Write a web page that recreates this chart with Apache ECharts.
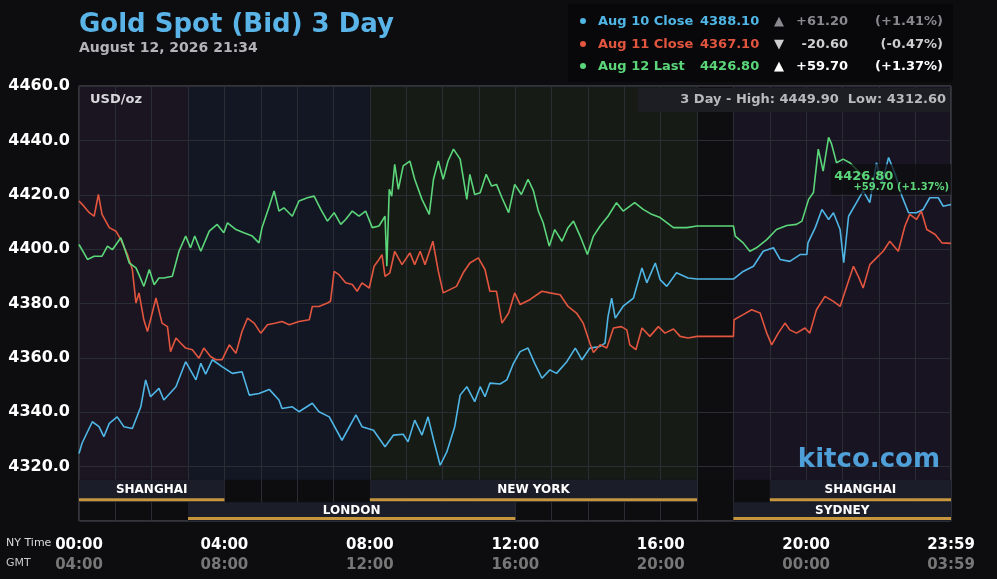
<!DOCTYPE html>
<html><head><meta charset="utf-8">
<script src="https://cdn.jsdelivr.net/npm/echarts@6/dist/echarts.min.js"></script>
<style>html,body{margin:0;padding:0;background:#0d0d10;}#c{width:997px;height:579px;}</style>
</head><body><div id="c"></div>
<script>
const F = '"DejaVu Sans", sans-serif';

// minutes after 00:00 NY time
const tAug10 = [0,5,22,33,41,50,63,74,88,102,110,118,132,140,160,176,193,201,209,220,236,253,269,281,297,314,330,335,352,363,385,396,413,434,457,467,486,505,519,535,543,554,566,576,585,596,607,620,629,640,653,662,670,678,695,706,717,728,741,752,764,777,788,805,819,830,843,860,868,873,879,885,898,915,929,937,951,959,970,986,1005,1020,1080,1096,1113,1129,1146,1157,1173,1190,1201,1203,1215,1226,1237,1245,1256,1262,1270,1283,1294,1305,1316,1325,1336,1347,1358,1369,1382,1393,1404,1418,1426,1439];
const vAug10 = [4324.8,4328.6,4336.5,4334.7,4331,4335.9,4338.3,4334.7,4334,4342,4351.9,4345.7,4348.8,4344.5,4349.4,4358.6,4351.9,4358,4354,4359.3,4356.8,4354.3,4354.9,4346.3,4346.9,4348.4,4344.5,4341.4,4342,4340.2,4343.3,4340.2,4338.3,4329.7,4339,4334.7,4333.4,4327.3,4331.6,4331.9,4329.1,4337.1,4331.6,4338.3,4330,4320.5,4325.4,4334.7,4346.3,4349.4,4343.9,4349.4,4345.7,4350.7,4350.4,4351.9,4358,4362.3,4363.6,4358,4352.5,4355.6,4354.3,4358.6,4363.6,4359.3,4363.6,4364.2,4365.4,4375.2,4382,4374.6,4379,4382,4393.1,4387.6,4394.9,4388.8,4386.3,4391.3,4389.4,4389,4389,4391.8,4393.7,4399.2,4400.5,4396.2,4395.5,4398,4398,4402.3,4407.9,4414.6,4410.9,4413.4,4407.2,4395,4412.1,4417.1,4421.4,4417.1,4431.8,4424,4433.7,4427.5,4419.5,4413.4,4413.4,4414.6,4418.9,4418.9,4415.8,4416.4];

const tAug11 = [0,8,17,25,32,38,50,61,69,80,88,94,99,107,113,118,127,137,146,151,160,168,176,187,198,206,217,226,236,248,259,269,278,289,300,311,325,335,347,363,380,385,396,410,415,421,429,440,451,459,467,479,487,495,500,505,513,521,533,546,554,563,571,584,593,601,612,623,634,645,659,670,678,689,698,709,719,728,744,764,777,794,807,821,832,843,849,860,871,882,895,904,909,919,929,942,956,967,981,992,1005,1020,1080,1081,1096,1110,1124,1135,1143,1154,1165,1173,1184,1198,1206,1217,1231,1245,1256,1267,1278,1286,1294,1305,1316,1327,1338,1352,1363,1371,1382,1390,1399,1413,1424,1439];
const vAug11 = [4417.7,4415.8,4413.4,4412.1,4420.1,4412.8,4407.9,4406.6,4403.5,4398,4392.5,4380.2,4383.9,4374,4369.7,4374,4382,4372.8,4371.5,4362.3,4367.3,4365.4,4363.6,4363,4359.9,4363.6,4360.5,4359.3,4359.3,4364.8,4361.7,4369.7,4374.6,4372.8,4369.1,4372.2,4372.8,4373.4,4372.2,4373.4,4374,4378.9,4378.9,4380.2,4380.8,4391.8,4390.6,4387.6,4387,4384.5,4387.6,4385.7,4393.7,4396.2,4398,4390,4391.3,4399.2,4394.3,4398.6,4394.3,4399.2,4394.3,4402.9,4391.8,4383.9,4385.1,4386.3,4391.3,4394.9,4396.8,4392.5,4384.5,4384.5,4372.8,4376.5,4383.9,4379.6,4381.4,4384.5,4383.9,4383.2,4378.9,4376.5,4372.8,4365.4,4362,4364.8,4363.6,4371,4371.5,4370.3,4364.8,4363,4371,4367.9,4371.5,4369.1,4370.6,4367.9,4367.3,4367.9,4367.9,4374,4375.9,4377.7,4376.5,4369.1,4364.8,4369.1,4372.8,4370.3,4369.1,4371,4369.1,4377.7,4382.6,4380.8,4378.9,4386.3,4393.7,4390,4385.7,4394.3,4396.8,4399.2,4402.9,4399.2,4408.5,4412.8,4410.9,4414,4407.2,4405.4,4402.3,4402.1];

const tAug12 = [0,8,14,25,38,47,55,69,74,83,94,99,107,116,124,132,140,154,165,176,184,191,201,215,228,239,245,259,272,286,297,302,314,322,330,338,352,363,377,388,399,410,421,432,440,451,462,473,484,495,505,508,512,516,521,527,535,546,554,566,578,585,593,601,609,618,629,640,645,653,662,672,681,689,698,709,719,730,741,750,758,766,776,785,797,807,816,827,839,849,860,873,887,898,917,931,945,959,981,1003,1020,1080,1083,1096,1107,1118,1135,1151,1168,1184,1193,1204,1212,1220,1228,1237,1242,1250,1261,1272,1294];
const vAug12 = [4401.7,4398.6,4396.2,4397.4,4397.4,4401.1,4399.8,4404.2,4401.1,4394.9,4393.1,4390.6,4386.3,4392.5,4386.9,4389.4,4389.4,4390,4399.2,4404.8,4400.5,4404.8,4399.2,4406.6,4409.1,4406,4409.7,4407.2,4406,4404.8,4402.3,4407.9,4415.8,4421.4,4414,4415.2,4412.1,4417.7,4418.9,4419.5,4414.6,4410.3,4413.4,4409.1,4410.9,4414,4412.1,4414,4407.9,4408.5,4412.1,4393.7,4422,4419.5,4431.2,4422,4430.6,4432.4,4425.7,4418.3,4412.8,4425.7,4432.4,4425.7,4432.4,4436.8,4433.1,4418.3,4427.5,4420.1,4420.7,4427.5,4423.2,4423.8,4418.9,4413.4,4423.8,4420.1,4425.7,4421.4,4414,4409.7,4401.1,4407.2,4402.9,4407.9,4410.3,4404.8,4398,4404.8,4408.5,4412.1,4417.1,4414,4417.1,4414.6,4412.8,4411.6,4407.9,4407.9,4408.5,4408.5,4404.8,4402.3,4399.2,4400.5,4403.5,4407.2,4408.7,4409.1,4410.3,4418.3,4420.8,4436.8,4428.7,4441.1,4438.6,4431.8,4433.1,4431.8,4426.8];

// legend table
const legNames = ['Aug 10 Close','Aug 11 Close','Aug 12 Last'];
const legValues = ['4388.10','4367.10','4426.80'];
const legArrows = ['▲','▼','▲'];
const legChanges = ['+61.20','-20.60','+59.70'];
const legPcts = ['(+1.41%)','(-0.47%)','(+1.37%)'];
const lastLabel = '4426.80';
const lastChange = '+59.70 (+1.37%)';

// trading sessions (minutes) and row
const sessNames = ['SHANGHAI','LONDON','NEW YORK','SHANGHAI','SYDNEY'];
const sessStart = [0,180,480,1140,1080];
const sessEnd = [240,720,1020,1439,1439];
const sessRow = [0,1,0,0,1];

// background bands
const bandStart = [0,180,480,1020,1080];
const bandEnd = [180,480,1020,1080,1439];
const bandColors = ['#1a1520','#131723','#171b16','#0e0e11','#181421'];

const xTicks = [0,240,480,720,960,1200,1439];
const yMin = 4300, yMax = 4460, yStep = 20;

const C_BLUE = '#4fb6e6', C_RED = '#e2553f', C_GREEN = '#5cd67a';

function hhmm(m){ m = ((m % 1440) + 1440) % 1440; const h = Math.floor(m/60), mm = m % 60; return String(h).padStart(2,'0') + ':' + String(mm).padStart(2,'0'); }
function pairs(t, v){ return t.map((x,i)=>[x, v[i]]); }

const chart = echarts.init(document.getElementById('c'), null, {renderer:'canvas'});

const ROW_TOP = [4315.2, 4306.9], ROW_BOT = [4306.9, 4300];

const option = {
  backgroundColor: '#0d0d10',
  animation: false,
  grid: { left: 79, right: 46, top: 86, bottom: 58, show: true, borderColor: '#5c5c62', borderWidth: 1, backgroundColor: 'transparent' },
  xAxis: {
    type: 'value', min: 0, max: 1439, interval: 60,
    axisLine: {show:false}, axisTick: {show:false},
    splitLine: { show: true, lineStyle: { color: '#2b2d35', width: 1 } },
    axisLabel: {
      customValues: xTicks, margin: 14,
      formatter: v => '{a|' + hhmm(v) + '}\n{b|' + hhmm(v + 240) + '}',
      rich: {
        a: { color: '#ffffff', fontFamily: F, fontWeight: 'bold', fontSize: 15, lineHeight: 20 },
        b: { color: '#777777', fontFamily: F, fontWeight: 'bold', fontSize: 15, lineHeight: 20 }
      }
    }
  },
  yAxis: {
    type: 'value', min: yMin, max: yMax, interval: yStep,
    axisLine: {show:false}, axisTick: {show:false},
    splitLine: { show: true, lineStyle: { color: '#2b2d35', width: 1 } },
    axisLabel: { margin: 9, color: '#ffffff', fontFamily: F, fontWeight: 'bold', fontSize: 16,
      formatter: v => v === yMin ? '' : v.toFixed(1) }
  },
  series: [
    {
      type: 'custom', z: -1, silent: true,
      data: bandStart.map((s,i)=>[s, bandEnd[i], i]),
      renderItem: (params, api) => {
        const p1 = api.coord([api.value(0), yMax]);
        const p2 = api.coord([api.value(1), ROW_TOP[0]]);
        return { type: 'rect', shape: { x: p1[0], y: p1[1], width: p2[0]-p1[0], height: p2[1]-p1[1] },
          style: { fill: bandColors[api.value(2)] } };
      }
    },
    {
      type: 'custom', z: 3, silent: true,
      data: sessStart.map((s,i)=>[s, sessEnd[i], sessRow[i], i]),
      renderItem: (params, api) => {
        const r = api.value(2);
        const p1 = api.coord([api.value(0), ROW_TOP[r]]);
        const p2 = api.coord([api.value(1), ROW_BOT[r]]);
        const w = p2[0]-p1[0], h = p2[1]-p1[1];
        return { type: 'group', children: [
          { type: 'rect', shape: { x: p1[0], y: p1[1], width: w, height: h }, style: { fill: '#1b1e28' } },
          { type: 'rect', shape: { x: p1[0], y: p2[1]-4, width: w, height: 3 }, style: { fill: '#c6963f' } },
          { type: 'text', x: p1[0] + w/2, y: p1[1] + h/2 - 1, style: { text: sessNames[api.value(3)], fill: '#ffffff',
            font: 'bold 12px ' + F, align: 'center', verticalAlign: 'middle' } }
        ]};
      }
    },
    { name: 'Aug 10 Close', type: 'line', z: 4, data: pairs(tAug10, vAug10), showSymbol: false, symbol: 'none',
      lineStyle: { color: C_BLUE, width: 1.6 }, itemStyle: { color: C_BLUE } },
    { name: 'Aug 11 Close', type: 'line', z: 5, data: pairs(tAug11, vAug11), showSymbol: false, symbol: 'none',
      lineStyle: { color: C_RED, width: 1.6 }, itemStyle: { color: C_RED } },
    { name: 'Aug 12 Last', type: 'line', z: 6, data: pairs(tAug12, vAug12), showSymbol: false, symbol: 'none',
      lineStyle: { color: C_GREEN, width: 1.6 }, itemStyle: { color: C_GREEN } }
  ]
};
chart.setOption(option);

// graphics: titles, legend table, annotations
const rowY = [22, 45, 67];
const rowColors = [C_BLUE, C_RED, C_GREEN];
const changeColors = ['#8a8a8e', '#cfcfd2', '#ffffff'];
const g = [];
g.push({ type: 'rect', left: 568, top: 4, shape: { width: 385, height: 78 }, style: { fill: '#08080a' }, z: 10 });
g.push({ type: 'text', x: 79, y: 25, style: { text: 'Gold Spot (Bid) 3 Day', fill: '#5ab4e8', font: 'bold 26px ' + F, verticalAlign: 'middle' }, z: 11 });
g.push({ type: 'text', x: 79, y: 48, style: { text: 'August 12, 2026 21:34', fill: '#b4b4b8', font: 'bold 14px ' + F, verticalAlign: 'middle' }, z: 11 });
legNames.forEach((n, i) => {
  const y = rowY[i];
  g.push({ type: 'circle', shape: { cx: 583, cy: y - 1, r: 3 }, style: { fill: rowColors[i] }, z: 11 });
  g.push({ type: 'text', x: 598, y, style: { text: n, fill: rowColors[i], font: 'bold 13px ' + F, verticalAlign: 'middle' }, z: 11 });
  g.push({ type: 'text', x: 700, y, style: { text: legValues[i], fill: rowColors[i], font: 'bold 13px ' + F, verticalAlign: 'middle' }, z: 11 });
  g.push({ type: 'text', x: 779, y, style: { text: legArrows[i], fill: changeColors[i], font: 'bold 13px ' + F, align: 'center', verticalAlign: 'middle' }, z: 11 });
  g.push({ type: 'text', x: 848, y, style: { text: legChanges[i], fill: changeColors[i], font: 'bold 13px ' + F, align: 'right', verticalAlign: 'middle' }, z: 11 });
  g.push({ type: 'text', x: 943, y, style: { text: legPcts[i], fill: changeColors[i], font: 'bold 13px ' + F, align: 'right', verticalAlign: 'middle' }, z: 11 });
});
// inside plot annotations
g.push({ type: 'text', x: 90, y: 100, style: { text: 'USD/oz', fill: '#d8d8dc', font: 'bold 13px ' + F, verticalAlign: 'middle' }, z: 11 });
g.push({ type: 'rect', left: 638, top: 88, shape: { width: 312, height: 24 }, style: { fill: '#1d1e23' }, z: 10 });
g.push({ type: 'text', x: 946, y: 100, style: { text: '3 Day - High: 4449.90  Low: 4312.60', fill: '#b9b9be', font: 'bold 13px ' + F, align: 'right', verticalAlign: 'middle' }, z: 11 });
g.push({ type: 'text', x: 940, y: 460, style: { text: 'kitco.com', fill: '#4f9fd8', font: 'bold 26px ' + F, align: 'right', verticalAlign: 'middle' }, z: 11 });
g.push({ type: 'text', x: 6, y: 543, style: { text: 'NY Time', fill: '#dcdcdc', font: '11px ' + F, verticalAlign: 'middle' }, z: 11 });
g.push({ type: 'text', x: 6, y: 563, style: { text: 'GMT', fill: '#c8c8c8', font: '11px ' + F, verticalAlign: 'middle' }, z: 11 });

// end label anchored to the last point of the Aug 12 series
const lastIdx = tAug12.length - 1;
const pEnd = chart.convertToPixel({ seriesIndex: 4 }, [tAug12[lastIdx], vAug12[lastIdx]]);
g.push({ type: 'rect', left: pEnd[0] - 32, top: pEnd[1] - 12, shape: { width: 120, height: 30 }, style: { fill: 'rgba(12,12,14,0.72)' }, z: 12 });
g.push({ type: 'text', x: pEnd[0] - 29, y: pEnd[1], style: { text: lastLabel, fill: C_GREEN, font: 'bold 13px ' + F, verticalAlign: 'middle' }, z: 13 });
g.push({ type: 'text', x: pEnd[0] + 86, y: pEnd[1] + 11, style: { text: lastChange, fill: C_GREEN, font: 'bold 10px ' + F, align: 'right', verticalAlign: 'middle' }, z: 13 });

chart.setOption({ graphic: g });
</script>
</body></html>
